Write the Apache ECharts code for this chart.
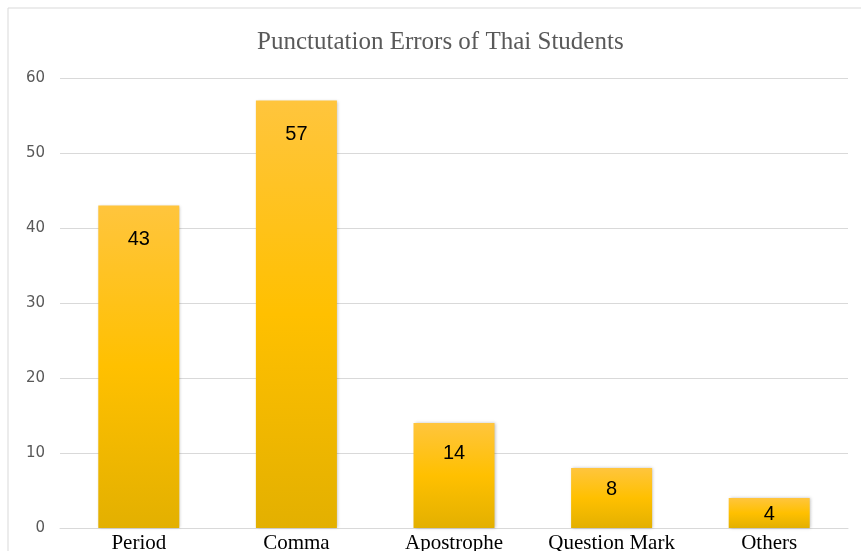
<!DOCTYPE html>
<html>
<head>
<meta charset="utf-8">
<script src="https://cdn.jsdelivr.net/npm/echarts@6/dist/echarts.min.js"></script>
<style>
  html, body { margin: 0; padding: 0; background: #fff; }
  #main { width: 861px; height: 551px; }
</style>
</head>
<body>
<div id="main"></div>
<script>
var categories = ['Period', 'Comma', 'Apostrophe', 'Question Mark', 'Others'];
var errorCounts = [43, 57, 14, 8, 4];
var yTicks = { min: 0, max: 60, interval: 10 };

var chart = echarts.init(document.getElementById('main'));

// short bars get their label pulled up closer to the top edge
var barData = errorCounts.map(function (v) {
    return {
        value: v,
        label: { distance: Math.min(24, Math.round(v * 1.4)) }
    };
});

var option = {
    backgroundColor: '#fff',
    animation: false,
    title: {
        text: 'Punctutation Errors of Thai Students',
        left: 252,
        top: 25,
        textStyle: {
            fontFamily: 'Liberation Serif',
            fontWeight: 'normal',
            fontSize: 25,
            color: '#595959'
        }
    },
    graphic: [{
        type: 'rect',
        shape: { x: 8, y: 8, width: 870, height: 560 },
        style: { fill: 'none', stroke: '#d9d9d9', lineWidth: 1 }
    }],
    grid: { left: 60, right: 13, top: 78, bottom: 23, outerBoundsMode: 'none' },
    xAxis: {
        type: 'category',
        data: categories,
        axisLine: { lineStyle: { color: '#d9d9d9' } },
        axisTick: { show: false },
        axisLabel: {
            fontFamily: 'Liberation Serif',
            fontSize: 21,
            color: '#000',
            margin: 5,
            interval: 0
        }
    },
    yAxis: {
        type: 'value',
        min: yTicks.min,
        max: yTicks.max,
        interval: yTicks.interval,
        axisLine: { show: false },
        axisTick: { show: false },
        splitLine: { lineStyle: { color: '#d9d9d9', width: 1 } },
        axisLabel: {
            fontFamily: 'DejaVu Sans',
            fontSize: 15,
            color: '#595959',
            margin: 15
        }
    },
    series: [{
        type: 'bar',
        data: barData,
        barWidth: 81,
        itemStyle: {
            color: new echarts.graphic.LinearGradient(0, 0, 0, 1, [
                { offset: 0, color: '#ffc53d' },
                { offset: 0.5, color: '#ffc000' },
                { offset: 1, color: '#e3b000' }
            ]),
            shadowColor: 'rgba(0,0,0,0.25)',
            shadowBlur: 3,
            shadowOffsetX: 1
        },
        label: {
            show: true,
            position: 'insideTop',
            fontFamily: 'Liberation Sans',
            fontSize: 20,
            color: '#000'
        }
    }]
};

chart.setOption(option);
</script>
</body>
</html>
